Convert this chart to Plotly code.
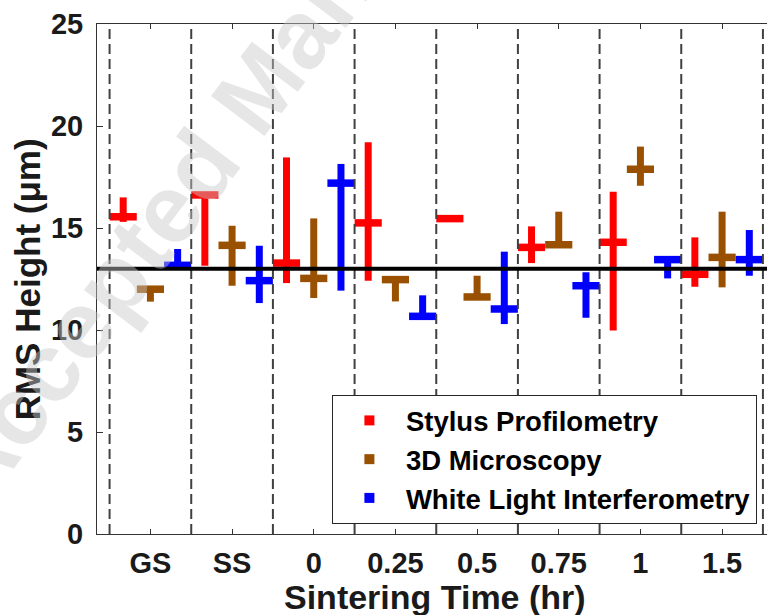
import plotly.graph_objects as go

categories = ["GS", "SS", "0", "0.25", "0.5", "0.75", "1", "1.5"]

sp_mean = [15.55, 16.62, 13.28, 15.25, 15.46, 14.05, 14.30, 12.73]
sp_upper = [16.50, 16.62, 18.46, 19.20, 15.46, 15.08, 16.78, 14.54]
sp_lower = [15.30, 13.15, 12.30, 12.42, 15.46, 13.28, 9.97, 12.12]

dm_mean = [12.00, 14.15, 12.53, 12.47, 11.62, 14.18, 17.88, 13.56]
dm_upper = [12.00, 15.11, 15.47, 12.47, 12.66, 15.80, 18.99, 15.80]
dm_lower = [11.39, 12.17, 11.57, 11.40, 11.62, 14.18, 17.07, 12.09]

wl_mean = [13.17, 12.42, 17.20, 10.67, 11.03, 12.17, 13.45, 13.45]
wl_upper = [13.97, 14.13, 18.14, 11.70, 13.84, 12.83, 13.45, 14.90]
wl_lower = [13.17, 11.32, 11.93, 10.67, 10.29, 10.60, 12.53, 12.66]

reference_level = 13.0

series = [
    ("Stylus Profilometry", "#ff0000", sp_mean, sp_upper, sp_lower, -1 / 3),
    ("3D Microscopy", "#995000", dm_mean, dm_upper, dm_lower, 0.0),
    ("White Light Interferometry", "#0000ff", wl_mean, wl_upper, wl_lower, 1 / 3),
]

FONT = "Liberation Sans, Arial, sans-serif"
AXC = "#333333"

fig = go.Figure()
idx = list(range(len(categories)))

for name, color, mean, up, lo, off in series:
    fig.add_trace(go.Scatter(
        x=[i + off for i in idx], y=mean, mode="markers", showlegend=False,
        marker=dict(symbol="line-ew", size=19.4, color=color,
                    line=dict(color=color, width=7.5)),
        error_y=dict(type="data", symmetric=False,
                     array=[u - m for u, m in zip(up, mean)],
                     arrayminus=[m - l for m, l in zip(mean, lo)],
                     thickness=7, width=0, color=color),
        cliponaxis=False,
    ))

for name, color, *_ in series:
    fig.add_trace(go.Scatter(
        x=[None], y=[None], mode="markers", name=name,
        marker=dict(symbol="square", size=10, color=color),
    ))

# group boundaries (dashed)
for b in [i - 0.5 for i in range(len(categories) + 1)]:
    fig.add_shape(type="line", xref="x", yref="paper", x0=b, x1=b, y0=0, y1=1,
                  line=dict(color="#404040", width=2, dash="10px,5px"), layer="above")

fig.add_shape(type="line", xref="paper", yref="y", x0=0, x1=1,
              y0=reference_level, y1=reference_level,
              line=dict(color="black", width=4), layer="above")

fig.update_layout(
    width=767, height=615,
    margin=dict(l=97, r=0, t=24, b=81),
    paper_bgcolor="white", plot_bgcolor="white",
    font=dict(family=FONT, color="#1a1a1a"),
    xaxis=dict(
        range=[-0.654, 7.55], tickmode="array", tickvals=idx, ticktext=categories,
        ticks="inside", ticklen=5, tickcolor=AXC, showline=True, linecolor=AXC,
        linewidth=1, mirror="ticks", showgrid=False, zeroline=False,
        tickfont=dict(family=FONT, size=29, weight="bold", color="#1a1a1a"),
        ticklabelstandoff=3,
    ),
    yaxis=dict(
        range=[0, 25], tickvals=[0, 5, 10, 15, 20, 25],
        ticks="inside", ticklen=6, tickcolor=AXC, showline=True, linecolor=AXC,
        linewidth=1, mirror=False, showgrid=False, zeroline=False,
        tickfont=dict(family=FONT, size=29, weight="bold", color="#1a1a1a"),
        ticklabelstandoff=7,
    ),
    legend=dict(
        x=0.3506, y=0.2725, xanchor="left", yanchor="top",
        bgcolor="white", bordercolor="#262626", borderwidth=1,
        font=dict(family=FONT, size=27.5, weight="bold", color="black"),
        itemwidth=63, tracegroupgap=0,
    ),
    annotations=[
        dict(text="Sintering Time (hr)", xref="paper", yref="paper", x=0.505, y=-0.124,
             xanchor="center", yanchor="middle", showarrow=False,
             font=dict(family=FONT, size=34, weight="bold", color="#1a1a1a")),
        dict(text="RMS Height (μm)", xref="paper", yref="paper", x=-0.104, y=0.5,
             xanchor="center", yanchor="middle", showarrow=False, textangle=-90,
             font=dict(family=FONT, size=35, weight="bold", color="#1a1a1a")),
        dict(text="Accepted Manuscript", xref="paper", yref="paper", x=0.2287, y=0.851,
             xanchor="center", yanchor="middle", showarrow=False, textangle=-53,
             font=dict(family=FONT, size=97, weight="bold", color="rgba(199,199,199,0.45)")),
    ],
)

fig.write_html("out.html")
